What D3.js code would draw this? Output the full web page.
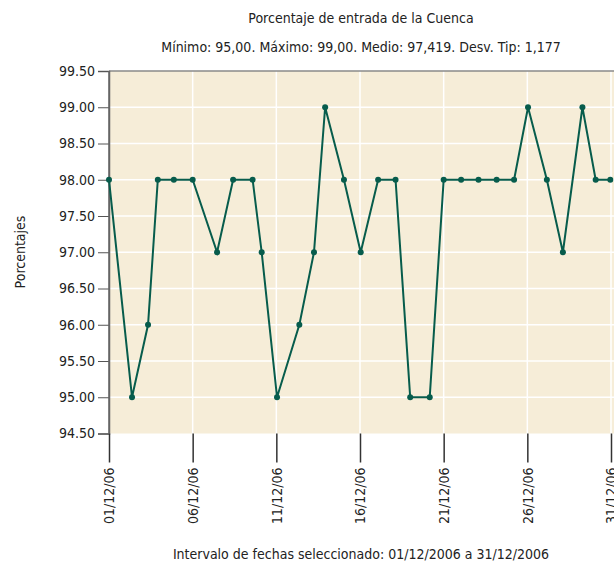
<!DOCTYPE html>
<html>
<head>
<meta charset="utf-8">
<script src="https://cdn.jsdelivr.net/npm/d3@7"></script>
<style>
  body { margin: 0; background: #fff; }
  svg { display: block; overflow: hidden; }
  text { font-family: "Liberation Sans Narrow", "Arial Narrow", "DejaVu Sans Condensed", sans-serif; fill: #222; }
</style>
</head>
<body>
<svg id="chart" width="614" height="563"></svg>
<script>
// readings: timestamp (dd hh) and percentage
const times = [
  "2006-12-01 00:00", "2006-12-02 09:00", "2006-12-03 08:00", "2006-12-03 22:00",
  "2006-12-04 21:00", "2006-12-06 00:00", "2006-12-07 11:00", "2006-12-08 10:00",
  "2006-12-09 14:00", "2006-12-10 03:00", "2006-12-11 01:00", "2006-12-12 09:00",
  "2006-12-13 06:00", "2006-12-13 22:00", "2006-12-15 01:00", "2006-12-16 01:00",
  "2006-12-17 02:00", "2006-12-18 03:00", "2006-12-19 00:00", "2006-12-20 04:00",
  "2006-12-21 00:00", "2006-12-22 01:00", "2006-12-23 02:00", "2006-12-24 04:00",
  "2006-12-25 05:00", "2006-12-26 01:00", "2006-12-27 04:00", "2006-12-28 03:00",
  "2006-12-29 07:00", "2006-12-30 02:00", "2006-12-30 23:00"
];
const values = [
  98, 95, 96, 98, 98, 98, 97, 98, 98, 97, 95, 96, 97, 99, 98, 97,
  98, 98, 95, 95, 98, 98, 98, 98, 98, 99, 98, 97, 99, 98, 98
];
const yTicks = [94.5, 95, 95.5, 96, 96.5, 97, 97.5, 98, 98.5, 99, 99.5];
const xTickDays = ["2006-12-01", "2006-12-06", "2006-12-11", "2006-12-16", "2006-12-21", "2006-12-26", "2006-12-31"];

const title = "Porcentaje de entrada de la Cuenca";
const subtitle = "Mínimo: 95,00. Máximo: 99,00. Medio: 97,419. Desv. Tip: 1,177";
const yLabel = "Porcentajes";
const xLabel = "Intervalo de fechas seleccionado: 01/12/2006 a 31/12/2006";

const parseTime = d3.timeParse("%Y-%m-%d %H:%M");
const parseDay = d3.timeParse("%Y-%m-%d");
const data = times.map((t, i) => ({ date: parseTime(t), value: values[i] }));
const tickDates = xTickDays.map(parseDay);

const svg = d3.select("#chart");
const width = 614;
const margin = { top: 71, left: 109, bottom: 433.5 };

const x = d3.scaleTime()
  .domain([parseDay("2006-12-01"), parseDay("2006-12-31")])
  .range([margin.left, 611]);
const y = d3.scaleLinear()
  .domain([94.5, 99.5])
  .range([margin.bottom, margin.top]);

// plot background
svg.append("rect")
  .attr("x", margin.left)
  .attr("y", margin.top)
  .attr("width", width - margin.left + 20)
  .attr("height", margin.bottom - margin.top)
  .attr("fill", "#f6edd8");

// grid
svg.append("g")
  .selectAll("line")
  .data(yTicks.slice(1, -1))
  .join("line")
  .attr("x1", margin.left)
  .attr("x2", width + 20)
  .attr("y1", d => y(d))
  .attr("y2", d => y(d))
  .attr("stroke", "#fff")
  .attr("stroke-width", 1.5);

svg.append("g")
  .selectAll("line")
  .data(tickDates.slice(1))
  .join("line")
  .attr("x1", d => x(d))
  .attr("x2", d => x(d))
  .attr("y1", margin.top)
  .attr("y2", margin.bottom)
  .attr("stroke", "#fff")
  .attr("stroke-width", 1.5);

// top border
svg.append("line")
  .attr("x1", margin.left)
  .attr("x2", width + 20)
  .attr("y1", margin.top)
  .attr("y2", margin.top)
  .attr("stroke", "#8a8a8a")
  .attr("stroke-width", 1.5);

// y axis
const yAxis = svg.append("g")
  .attr("transform", `translate(${margin.left},0)`)
  .call(d3.axisLeft(y).tickValues(yTicks).tickFormat(d3.format(".2f")).tickSize(11).tickPadding(3));
yAxis.select(".domain").attr("stroke", "#666").attr("stroke-width", 1.5);
yAxis.selectAll(".tick line").attr("stroke", "#555").attr("stroke-width", 1);
yAxis.selectAll(".tick text")
  .attr("font-size", 14)
  .attr("font-family", null)
  .attr("fill", "#222");

// x axis
const xAxis = svg.append("g")
  .attr("transform", `translate(0,${margin.bottom})`)
  .call(d3.axisBottom(x).tickValues(tickDates).tickFormat(d3.timeFormat("%d/%m/%y")).tickSize(29).tickSizeOuter(0));
xAxis.select(".domain").remove();
xAxis.selectAll(".tick line").attr("stroke", "#333").attr("stroke-width", 1.5);
xAxis.selectAll(".tick text")
  .attr("font-size", 14)
  .attr("font-family", null)
  .attr("fill", "#222")
  .attr("text-anchor", "end")
  .attr("transform", "translate(0,34) rotate(-90)")
  .attr("x", 0)
  .attr("y", 0)
  .attr("dy", "0.35em");

// left axis line down to the first tick
svg.append("line")
  .attr("x1", margin.left)
  .attr("x2", margin.left)
  .attr("y1", margin.top)
  .attr("y2", margin.bottom)
  .attr("stroke", "#666")
  .attr("stroke-width", 1.5);

// series
const line = d3.line()
  .x(d => x(d.date))
  .y(d => y(d.value));

svg.append("path")
  .datum(data)
  .attr("d", line)
  .attr("fill", "none")
  .attr("stroke", "#075c4c")
  .attr("stroke-width", 2);

svg.append("g")
  .selectAll("circle")
  .data(data)
  .join("circle")
  .attr("cx", d => x(d.date))
  .attr("cy", d => y(d.value))
  .attr("r", 3)
  .attr("fill", "#075c4c");

// titles
svg.append("text")
  .attr("x", 361)
  .attr("y", 23)
  .attr("text-anchor", "middle")
  .attr("font-size", 14)
  .text(title);

svg.append("text")
  .attr("x", 361)
  .attr("y", 52)
  .attr("text-anchor", "middle")
  .attr("font-size", 14)
  .text(subtitle);

svg.append("text")
  .attr("transform", "translate(25,252) rotate(-90)")
  .attr("text-anchor", "middle")
  .attr("font-size", 14)
  .text(yLabel);

svg.append("text")
  .attr("x", 361)
  .attr("y", 559)
  .attr("text-anchor", "middle")
  .attr("font-size", 14)
  .text(xLabel);
</script>
</body>
</html>
